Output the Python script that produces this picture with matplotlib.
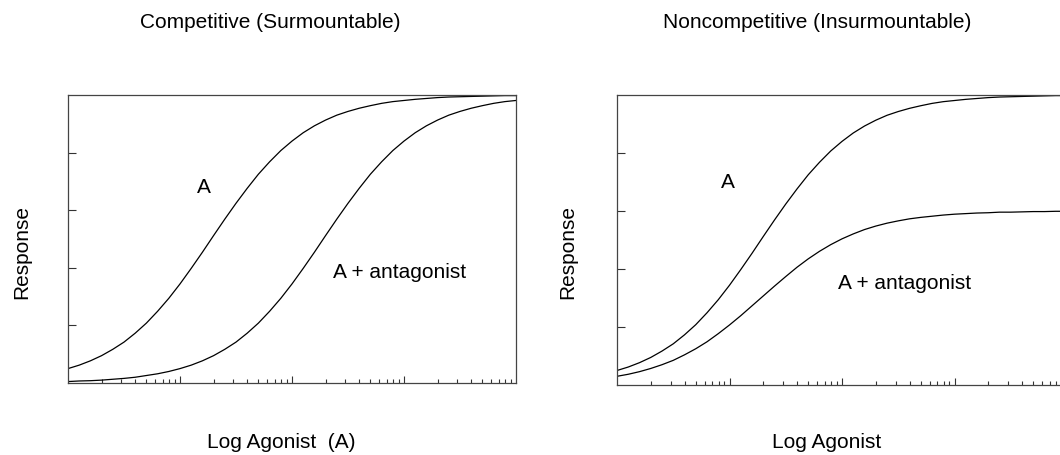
import matplotlib
matplotlib.use("Agg")
import matplotlib.pyplot as plt
from matplotlib.ticker import LogLocator, NullFormatter, FixedLocator

plt.rcParams['font.family'] = ['Liberation Sans', 'DejaVu Sans']

# log10 agonist concentration (M), read every 0.1 decade
log_dose = [-9.0, -8.9, -8.8, -8.7, -8.6, -8.5, -8.4, -8.3, -8.2, -8.1,
            -8.0, -7.9, -7.8, -7.7, -7.6, -7.5, -7.4, -7.3, -7.2, -7.1,
            -7.0, -6.9, -6.8, -6.7, -6.6, -6.5, -6.4, -6.3, -6.2, -6.1,
            -6.0, -5.9, -5.8, -5.7, -5.6, -5.5, -5.4, -5.3, -5.2, -5.1, -5.0]

# agonist alone (same curve in both panels)
resp_a = [0.050, 0.062, 0.077, 0.095, 0.117, 0.142, 0.173, 0.208, 0.249, 0.294,
          0.344, 0.398, 0.454, 0.512, 0.569, 0.624, 0.676, 0.725, 0.768, 0.807,
          0.840, 0.869, 0.893, 0.913, 0.930, 0.943, 0.954, 0.963, 0.971, 0.977,
          0.981, 0.985, 0.988, 0.991, 0.993, 0.994, 0.995, 0.996, 0.997, 0.998, 0.998]

# competitive antagonist: shifted right, same maximum
resp_comp = [0.005, 0.007, 0.008, 0.010, 0.013, 0.016, 0.020, 0.026, 0.032, 0.040,
             0.050, 0.062, 0.077, 0.095, 0.117, 0.142, 0.173, 0.208, 0.249, 0.294,
             0.344, 0.398, 0.454, 0.512, 0.569, 0.624, 0.676, 0.725, 0.768, 0.807,
             0.840, 0.869, 0.893, 0.913, 0.930, 0.943, 0.954, 0.963, 0.971, 0.977, 0.981]

# noncompetitive antagonist: depressed maximum
resp_noncomp = [0.030, 0.037, 0.046, 0.057, 0.070, 0.085, 0.104, 0.125, 0.149, 0.177,
                0.207, 0.239, 0.273, 0.307, 0.341, 0.374, 0.406, 0.435, 0.461, 0.484,
                0.504, 0.521, 0.536, 0.548, 0.558, 0.566, 0.573, 0.578, 0.582, 0.586,
                0.589, 0.591, 0.593, 0.594, 0.596, 0.596, 0.597, 0.598, 0.598, 0.599, 0.599]

dose = [10 ** v for v in log_dose]

W, H = 1060, 455
fig = plt.figure(figsize=(W / 100, H / 100), dpi=100)

def px_axes(left, top, right, bottom):
    return fig.add_axes([left / W, 1 - bottom / H, (right - left) / W, (bottom - top) / H])

def style_axes(ax):
    ax.set_xscale("log")
    ax.set_xlim(1e-9, 1e-5)
    ax.set_ylim(0, 1)
    ax.xaxis.set_major_locator(FixedLocator([1e-8, 1e-7, 1e-6]))
    ax.xaxis.set_minor_locator(LogLocator(base=10, subs=range(2, 10)))
    ax.xaxis.set_major_formatter(NullFormatter())
    ax.xaxis.set_minor_formatter(NullFormatter())
    ax.set_yticks([0.2, 0.4, 0.6, 0.8])
    ax.set_yticklabels([])
    ax.tick_params(axis="x", which="major", direction="in", length=5, width=0.8, color="#333333")
    ax.tick_params(axis="x", which="minor", direction="in", length=2.8, width=0.8, color="#333333")
    ax.tick_params(axis="y", which="major", direction="in", length=5.8, width=0.8, color="#333333")
    for s in ax.spines.values():
        s.set_color("#444444")
        s.set_linewidth(0.9)

fs = 15

# Panel esquerdo - competitivo
ax1 = px_axes(68, 95, 516, 383)
style_axes(ax1)
ax1.plot(dose, resp_a, color="black", lw=0.9)
ax1.plot(dose, resp_comp, color="black", lw=0.9)
ax1.text(10 ** -7.79, 0.68, "A", fontsize=fs, ha="center", va="center")
ax1.text(10 ** -6.63, 0.385, "A + antagonist", fontsize=fs, ha="left", va="center")

# Panel direito - nao competitivo
ax2 = px_axes(617, 95, 1067, 385)
style_axes(ax2)
ax2.plot(dose, resp_a, color="black", lw=0.9)
ax2.plot(dose, resp_noncomp, color="black", lw=0.9)
ax2.text(10 ** -8.01, 0.70, "A", fontsize=fs, ha="center", va="center")
ax2.text(10 ** -7.04, 0.35, "A + antagonist", fontsize=fs, ha="left", va="center")

# titulos e rotulos
fig.text(270 / W, 1 - 22 / H, "Competitive (Surmountable)", fontsize=fs, ha="center", va="center")
fig.text(817 / W, 1 - 23 / H, "Noncompetitive (Insurmountable)", fontsize=fs, ha="center", va="center")
fig.text(281 / W, 1 - 443 / H, "Log Agonist  (A)", fontsize=fs, ha="center", va="center")
fig.text(827 / W, 1 - 443 / H, "Log Agonist", fontsize=fs, ha="center", va="center")
fig.text(22 / W, 1 - 252 / H, "Response", fontsize=fs, ha="center", va="center", rotation=90)
fig.text(568 / W, 1 - 252 / H, "Response", fontsize=fs, ha="center", va="center", rotation=90)

fig.savefig("out.png", dpi=100)
